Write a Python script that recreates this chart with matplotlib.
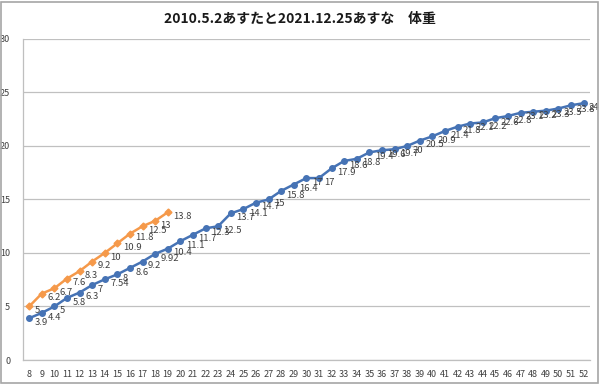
import matplotlib.pyplot as plt
from matplotlib.patches import Rectangle

plt.rcParams['font.family'] = ['Noto Sans CJK JP', 'DejaVu Sans']

title = '2010.5.2あすたと2021.12.25あすな　体重'

# x categories (8 .. 52)
weeks = list(range(8, 53))

# blue series: 2010.5.2 (あすた)
asuta = [3.9, 4.4, 5, 5.8, 6.3, 7, 7.54, 8, 8.6, 9.2, 9.92, 10.4, 11.1, 11.7,
         12.3, 12.5, 13.7, 14.1, 14.7, 15, 15.8, 16.4, 17, 17, 17.9, 18.6,
         18.8, 19.4, 19.6, 19.7, 20, 20.5, 20.9, 21.4, 21.8, 22.1, 22.2, 22.6,
         22.8, 23.1, 23.2, 23.3, 23.5, 23.8, 24]

# orange series: 2021.12.25 (あすな)
asuna = [5, 6.2, 6.7, 7.6, 8.3, 9.2, 10, 10.9, 11.8, 12.5, 13, 13.8]

blue = '#4673b5'
orange = '#f5994a'

fig = plt.figure(figsize=(6, 3.84), dpi=100)
ax = fig.add_axes([0.038, 0.0625, 0.945, 0.836])

xs = list(range(len(weeks)))
ax.plot(xs, asuta, color=blue, lw=1.8, marker='o', ms=4, zorder=3)
ax.plot(xs[:len(asuna)], asuna, color=orange, lw=1.8, marker='D', ms=3.5, zorder=3)

def fmt(v):
    return f'{v:g}'

# data labels, to the right of each point (Excel style)
for x, v in zip(xs, asuta):
    ax.annotate(fmt(v), (x, v), xytext=(4, -3), textcoords='offset points',
                fontsize=6.8, color='#404040', va='center', ha='left', zorder=4)
for x, v in zip(xs, asuna):
    ax.annotate(fmt(v), (x, v), xytext=(4, -3), textcoords='offset points',
                fontsize=6.8, color='#404040', va='center', ha='left', zorder=4)

ax.set_xlim(-0.5, len(weeks) - 0.5)
ax.set_ylim(0, 30)
ax.set_xticks(xs)
ax.set_xticklabels([str(w) for w in weeks])
ax.set_yticks(range(0, 31, 5))
ax.tick_params(axis='both', length=0, labelsize=6.5, labelcolor='#404040')
ax.tick_params(axis='x', pad=7)
ax.tick_params(axis='y', pad=9)
ax.grid(axis='y', color='#c0c0c0', lw=0.9)
ax.set_axisbelow(True)
for s in ['top', 'right']:
    ax.spines[s].set_visible(False)
for s in ['left', 'bottom']:
    ax.spines[s].set_color('#bfbfbf')
    ax.spines[s].set_linewidth(0.9)

fig.suptitle(title, y=0.968, fontsize=10, fontweight='bold', color='#1a1a1a')

# outer frame
fig.patches.append(Rectangle((0.002, 0.003), 0.995, 0.993, transform=fig.transFigure,
                             fill=False, edgecolor='#a6a6a6', lw=1.2))

fig.savefig('out.png', dpi=100)
